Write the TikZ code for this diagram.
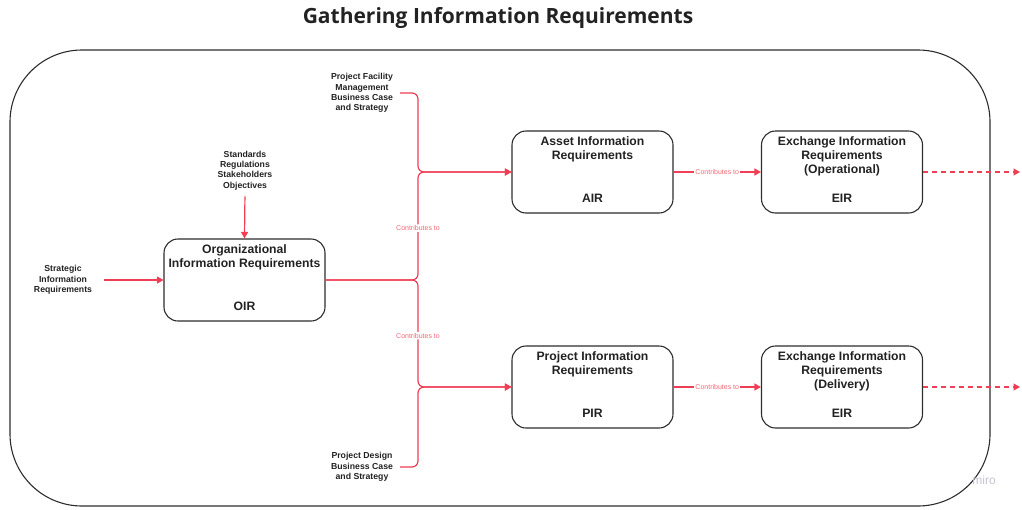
\documentclass[tikz,border=0pt]{standalone}
\usepackage{fontspec}
\setmainfont{Liberation Sans}
\newfontfamily\titlefont{Open Sans}
\usetikzlibrary{arrows.meta}
\definecolor{linkred}{RGB}{240,62,84}
\definecolor{labelred}{RGB}{245,105,120}
\definecolor{edge}{RGB}{45,45,45}
\definecolor{ink}{RGB}{34,34,34}
\definecolor{mark}{RGB}{195,195,215}
\begin{document}
\begin{tikzpicture}[x=1pt,y=-1pt,
  box/.style={draw=edge, line width=1.1pt, rounded corners=14pt,
    minimum width=161pt, minimum height=82pt, inner sep=0pt},
  boxhead/.style={font=\bfseries\fontsize{12.2}{14}\selectfont, align=center,
    anchor=north, inner sep=0pt, text=ink},
  boxtag/.style={font=\bfseries\fontsize{12.2}{14}\selectfont, anchor=south,
    inner sep=0pt, text=ink},
  note/.style={font=\bfseries\fontsize{8.7}{10.4}\selectfont, align=center,
    inner sep=0pt, text=ink},
  link/.style={draw=linkred, line width=1.2pt,
    -{Triangle[length=6.5pt,width=7pt]}},
  flow/.style={font=\fontsize{7}{8}\selectfont, text=labelred, fill=white,
    inner sep=1.2pt},
]
\useasboundingbox (0,0) rectangle (1022,509);

% frame around the whole process
\draw[edge, line width=1.1pt, rounded corners=72pt] (10,50) rectangle (990,506);

\node[font=\titlefont\bfseries\fontsize{21}{25}\selectfont, text=ink] (title)
  at (498,17.5) {Gathering Information Requirements};

% requirement boxes
\node[box] (oir)  at (244.5,280) {};
\node[box] (air)  at (592.5,172) {};
\node[box] (eiro) at (842,172) {};
\node[box] (pir)  at (592.5,387) {};
\node[box] (eird) at (842,387) {};

\node[boxhead] (oirh) at ([yshift=-6.5pt]oir.north) {Organizational\\Information Requirements};
\node[boxtag]  (oirt) at ([yshift=10.5pt]oir.south) {OIR};
\node[boxhead] (airh) at ([yshift=-6.5pt]air.north) {Asset Information\\Requirements};
\node[boxtag]  (airt) at ([yshift=10.5pt]air.south) {AIR};
\node[boxhead] (eiroh) at ([yshift=-6.5pt]eiro.north) {Exchange Information\\Requirements\\(Operational)};
\node[boxtag]  (eirot) at ([yshift=10.5pt]eiro.south) {EIR};
\node[boxhead] (pirh) at ([yshift=-6.5pt]pir.north) {Project Information\\Requirements};
\node[boxtag]  (pirt) at ([yshift=10.5pt]pir.south) {PIR};
\node[boxhead] (eirdh) at ([yshift=-6.5pt]eird.north) {Exchange Information\\Requirements\\(Delivery)};
\node[boxtag]  (eirdt) at ([yshift=10.5pt]eird.south) {EIR};

% inputs
\node[note] (sir) at (63,280) {Strategic\\Information\\Requirements};
\node[note] (std) at (245,170.5) {Standards\\Regulations\\Stakeholders\\Objectives};
\node[note] (pfm) at (362,93) {Project Facility\\Management\\Business Case\\and Strategy};
\node[note] (pdb) at (362,467) {Project Design\\Business Case\\and Strategy};

% junction points on the distribution bus
\coordinate (jt) at (418,172);
\coordinate (jb) at (418,387);
\coordinate (endo) at (1020,172);
\coordinate (endd) at (1020,387);

\draw[link, shorten <=12pt] (sir.east) -- (oir.west);
\draw[link, shorten <=6pt] (std.south) -- (oir.north);

\draw[link, rounded corners=6pt, shorten <=7pt] (pfm.east) -| (jt) -- (air.west);
\draw[link, rounded corners=6pt, shorten <=7pt] (pdb.east) -| (jb) -- (pir.west);
\draw[link, rounded corners=6pt] (oir.east) -| node[flow, pos=0.74] (c1) {Contributes to} (jt) -- (air.west);
\draw[link, rounded corners=6pt] (oir.east) -| node[flow, pos=0.76] (c2) {Contributes to} (jb) -- (pir.west);

\draw[link] (air.east) -- node[flow] (c3) {Contributes to} (eiro.west);
\draw[link] (pir.east) -- node[flow] (c4) {Contributes to} (eird.west);

\draw[link, dash pattern=on 5pt off 4pt] (eiro.east) -- (endo);
\draw[link, dash pattern=on 5pt off 4pt] (eird.east) -- (endd);

\node[font=\fontsize{12}{14}\selectfont, text=mark] (wm) at (984,480) {miro};
\end{tikzpicture}
\end{document}
